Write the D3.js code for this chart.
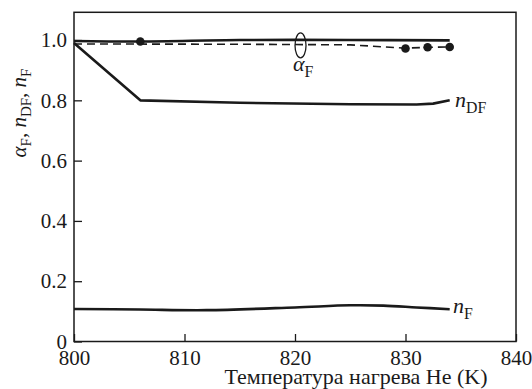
<!DOCTYPE html>
<html>
<head>
<meta charset="utf-8">
<script src="https://cdn.jsdelivr.net/npm/d3@7"></script>
<style>
  html, body { margin: 0; padding: 0; background: #fff; }
  svg { display: block; }
</style>
</head>
<body>
<svg id="chart" width="532" height="389"></svg>
<script>
// Temperature axis (K) and the measured curves
const xTicks = [800, 810, 820, 830, 840];
const yTicks = [0, 0.2, 0.4, 0.6, 0.8, 1.0];

// alpha_F, calculated (solid) and measured (dashed, with points)
const alphaSolidT = [800, 806, 815, 825, 834];
const alphaSolidV = [0.997, 0.995, 1.0, 1.0, 0.999];
const alphaDashT = [800, 815, 825, 830, 832, 834];
const alphaDashV = [0.987, 0.986, 0.984, 0.973, 0.976, 0.977];
const alphaPointsT = [806, 830, 832, 834];
const alphaPointsV = [0.995, 0.972, 0.976, 0.977];

// n_DF
const nDFT = [800, 806, 815, 825, 831, 832.5, 834];
const nDFV = [0.99, 0.80, 0.792, 0.787, 0.786, 0.789, 0.80];

// n_F
const nFT = [800, 806, 812, 820, 825, 828, 831, 834];
const nFV = [0.108, 0.106, 0.104, 0.113, 0.12, 0.119, 0.113, 0.107];

const FONT = "'Liberation Serif', Tinos, 'Times New Roman', 'DejaVu Serif', serif";
const ink = "#1a1a1a";

const svg = d3.select("#chart")
  .attr("font-family", FONT);
const plotL = 74, plotR = 516, plotT = 12.3, plotB = 341.5;

const x = d3.scaleLinear().domain([800, 840]).range([plotL, plotR]);
const y = d3.scaleLinear().domain([0, 1.092]).range([plotB, plotT]);

// axes with inward ticks
const xAxis = d3.axisBottom(x).tickValues(xTicks).tickFormat(d3.format("d"))
  .tickSizeInner(-7.5).tickSizeOuter(0).tickPadding(9);
const yAxis = d3.axisLeft(y).tickValues(yTicks)
  .tickFormat(d => d === 0 ? "0" : d3.format(".1f")(d))
  .tickSizeInner(-8).tickSizeOuter(0).tickPadding(7);

const gx = svg.append("g").attr("transform", `translate(0,${plotB})`).call(xAxis);
const gy = svg.append("g").attr("transform", `translate(${plotL},0)`).call(yAxis);
[gx, gy].forEach(g => {
  g.attr("font-family", FONT).attr("font-size", 21);
  g.select(".domain").remove();
  g.selectAll(".tick line").attr("stroke", ink).attr("stroke-width", 1.3);
  g.selectAll(".tick text").attr("fill", ink);
});

// frame
svg.append("rect")
  .attr("x", plotL).attr("y", plotT)
  .attr("width", plotR - plotL).attr("height", plotB - plotT)
  .attr("fill", "none").attr("stroke", ink).attr("stroke-width", 1.5);

const zip = (ts, vs) => ts.map((t, i) => [t, vs[i]]);
const line = d3.line().x(d => x(d[0])).y(d => y(d[1]));
const smooth = d3.line().x(d => x(d[0])).y(d => y(d[1])).curve(d3.curveCatmullRom);

svg.append("path").datum(zip(alphaSolidT, alphaSolidV))
  .attr("d", smooth).attr("fill", "none").attr("stroke", ink).attr("stroke-width", 2.6);

svg.append("path").datum(zip(alphaDashT, alphaDashV))
  .attr("d", line).attr("fill", "none").attr("stroke", ink).attr("stroke-width", 1.6)
  .attr("stroke-dasharray", "8,5");

svg.append("path").datum(zip(nDFT, nDFV))
  .attr("d", line).attr("fill", "none").attr("stroke", ink).attr("stroke-width", 2.6)
  .attr("stroke-linejoin", "round");

svg.append("path").datum(zip(nFT, nFV))
  .attr("d", smooth).attr("fill", "none").attr("stroke", ink).attr("stroke-width", 2.6);

svg.append("g").selectAll("circle").data(zip(alphaPointsT, alphaPointsV)).join("circle")
  .attr("cx", d => x(d[0])).attr("cy", d => y(d[1])).attr("r", 4.3).attr("fill", ink);

// alpha_F marker ellipse
svg.append("ellipse")
  .attr("cx", x(820.5)).attr("cy", y(0.982))
  .attr("rx", 5.5).attr("ry", 12.5)
  .attr("fill", "none").attr("stroke", ink).attr("stroke-width", 1.3);

// label helper: italic symbol + roman subscript
function symLabel(g, sym, sub, size) {
  g.attr("fill", ink);
  g.append("tspan").attr("font-style", "italic").attr("font-size", size).text(sym);
  g.append("tspan").attr("font-size", size * 0.72).attr("dy", size * 0.25).text(sub);
}

symLabel(svg.append("text").attr("x", 293).attr("y", 71), "α", "F", 22);
symLabel(svg.append("text").attr("x", 455).attr("y", 107), "n", "DF", 22);
symLabel(svg.append("text").attr("x", 453).attr("y", 313), "n", "F", 22);

// y axis title
const yt = svg.append("text").attr("transform", "translate(26,113) rotate(-90)")
  .attr("text-anchor", "middle").attr("font-size", 21).attr("fill", ink);
yt.append("tspan").attr("font-style", "italic").text("α");
yt.append("tspan").attr("font-size", 15).attr("dy", 5).text("F");
yt.append("tspan").attr("dy", -5).text(", ");
yt.append("tspan").attr("font-style", "italic").text("n");
yt.append("tspan").attr("font-size", 15).attr("dy", 5).text("DF");
yt.append("tspan").attr("dy", -5).text(", ");
yt.append("tspan").attr("font-style", "italic").text("n");
yt.append("tspan").attr("font-size", 15).attr("dy", 5).text("F");

// x axis title
svg.append("text").attr("x", 356).attr("y", 384).attr("text-anchor", "middle")
  .attr("font-size", 22).attr("fill", ink).text("Температура нагрева He (K)");
</script>
</body>
</html>
